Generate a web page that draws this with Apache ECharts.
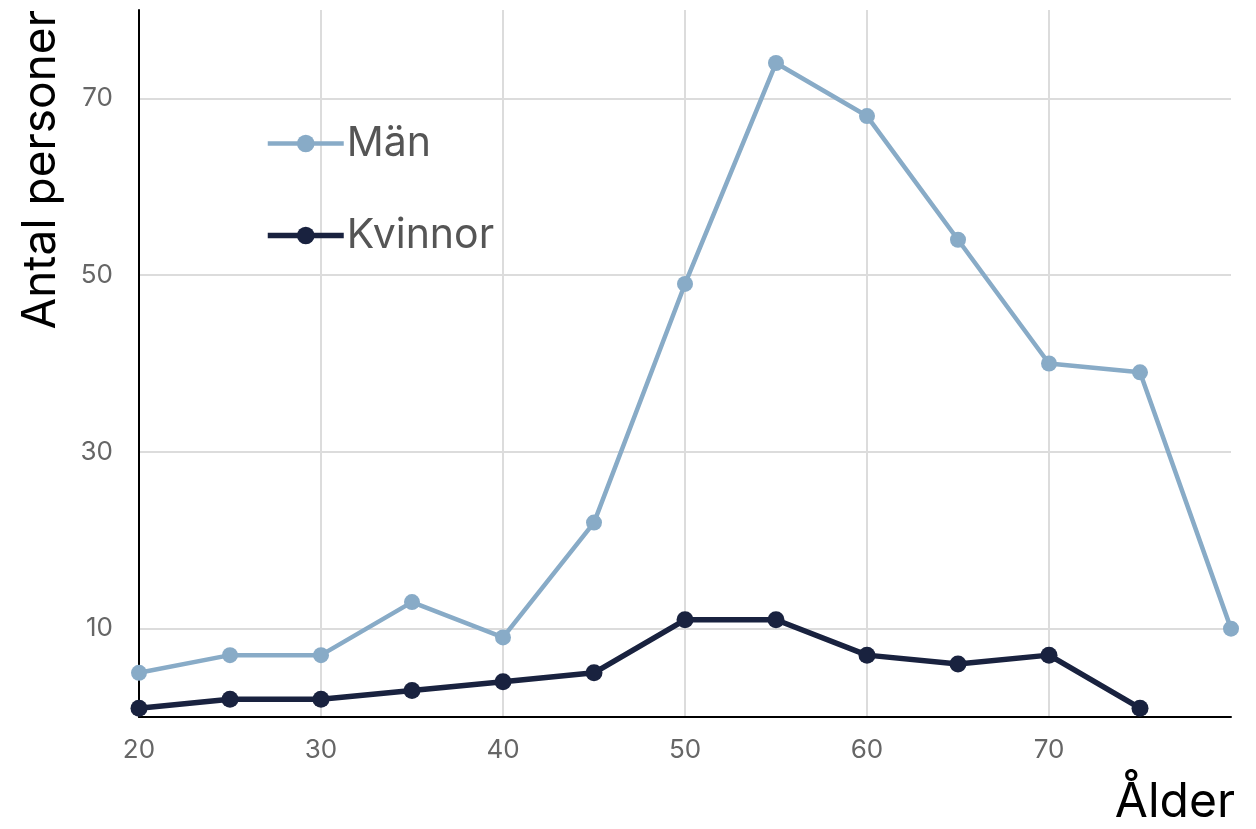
<!DOCTYPE html>
<html><head><meta charset="utf-8">
<script src="https://cdn.jsdelivr.net/npm/echarts@6/dist/echarts.min.js"></script>
<style>html,body{margin:0;padding:0;background:#fff}#c{width:1256px;height:829px}</style>
</head><body><div id="c"></div>
<script>
const ages = [20, 25, 30, 35, 40, 45, 50, 55, 60, 65, 70, 75, 80];
const man = [5, 7, 7, 13, 9, 22, 49, 74, 68, 54, 40, 39, 10];
const kvinnor = [1, 2, 2, 3, 4, 5, 11, 11, 7, 6, 7, 1];
const yTicks = [10, 30, 50, 70];
const FONT = 'Inter';

const chart = echarts.init(document.getElementById('c'));
chart.setOption({
  animation: false,
  textStyle: { fontFamily: FONT },
  grid: { left: 139, right: 25, top: 10, bottom: 112 },
  legend: {
    orient: 'vertical', left: 265, top: 123, padding: 0, itemGap: 51,
    itemWidth: 76, itemHeight: 22,
    textStyle: { fontSize: 41, color: '#555', fontFamily: FONT, padding: [0, 0, 0, -2] },
    data: [
      { name: 'Män', lineStyle: { width: 4.5 } },
      { name: 'Kvinnor', lineStyle: { width: 5.5 } }
    ]
  },
  xAxis: {
    type: 'value', min: 20, max: 80, interval: 10,
    axisLine: { show: true, onZero: false, lineStyle: { color: '#000', width: 2 } },
    axisTick: { show: false },
    axisLabel: { showMaxLabel: false, fontSize: 26, color: '#666', margin: 20 },
    splitLine: { show: true, showMinLine: false, showMaxLine: false, lineStyle: { color: '#dcdcdc', width: 2 } }
  },
  yAxis: {
    type: 'value', min: 0, max: 80,
    axisLine: { show: true, lineStyle: { color: '#000', width: 2 } },
    axisTick: { show: false, customValues: yTicks },
    axisLabel: { customValues: yTicks, fontSize: 26, color: '#666', margin: 26 },
    splitLine: { show: true, lineStyle: { color: '#dcdcdc', width: 2 } }
  },
  graphic: [
    { type: 'text', left: 18, top: 10, rotation: Math.PI / 2,
      style: { text: 'Antal personer', font: '46px ' + FONT, fill: '#000' } },
    { type: 'text', right: 21, bottom: 2,
      style: { text: 'Ålder', font: '48px ' + FONT, fill: '#000' } }
  ],
  series: [
    { name: 'Män', type: 'line', data: ages.map((a, i) => [a, man[i]]),
      symbol: 'circle', symbolSize: 16, color: '#88abc7',
      lineStyle: { width: 4.5, color: '#88abc7' }, itemStyle: { color: '#88abc7' } },
    { name: 'Kvinnor', type: 'line', data: kvinnor.map((v, i) => [ages[i], v]),
      symbol: 'circle', symbolSize: 17, color: '#19223f',
      lineStyle: { width: 5.5, color: '#19223f' }, itemStyle: { color: '#19223f' } }
  ]
});
</script></body></html>
